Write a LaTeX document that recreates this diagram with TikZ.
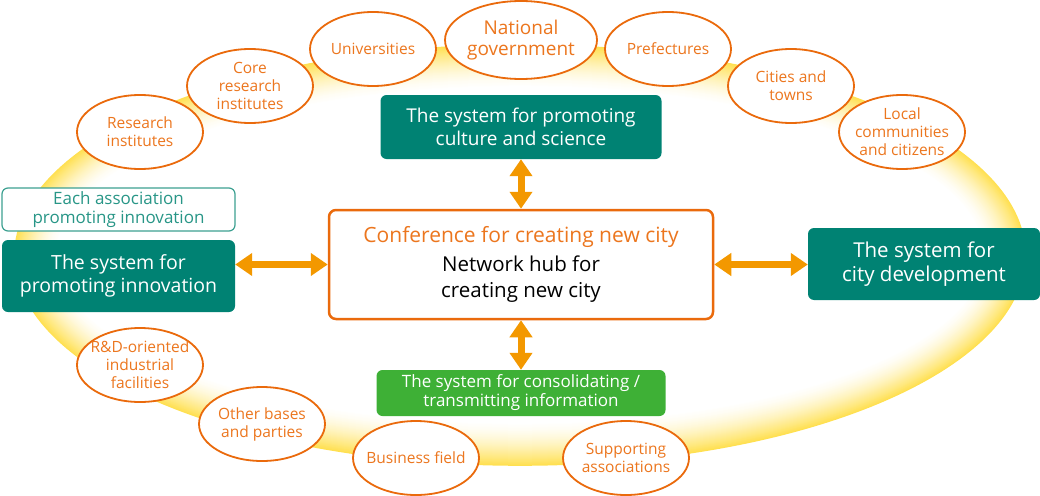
\documentclass[tikz,border=0pt]{standalone}
\usepackage{fontspec}
\setmainfont{Open Sans}
\usetikzlibrary{arrows.meta,shapes.geometric}
\definecolor{systeal}{RGB}{0,130,115}
\definecolor{sysgreen}{RGB}{62,176,54}
\definecolor{edgeorange}{RGB}{234,106,12}
\definecolor{textorange}{RGB}{236,118,30}
\definecolor{arroworange}{RGB}{243,152,0}
\definecolor{ringyellow}{RGB}{255,224,80}
\definecolor{assocteal}{RGB}{60,160,145}
\definecolor{assoctext}{RGB}{40,150,135}
\tikzset{
  place/.style={ellipse,draw=edgeorange,line width=1.8pt,fill=white,minimum width=126pt,minimum height=74pt,inner sep=-9pt,align=center,text=textorange,font=\fontsize{15.5}{18}\selectfont},
  sysbox/.style={rounded corners=6pt,fill=systeal,text=white,align=center,inner sep=0pt,font=\fontsize{19.5}{23.5}\selectfont},
  link/.style={line width=7pt,draw=arroworange,{Triangle[width=22pt,length=17pt]}-{Triangle[width=22pt,length=17pt]}}
}
\begin{document}
\begin{tikzpicture}[x=1pt,y=-1pt]
\useasboundingbox (0,0) rectangle (1040,495);
\foreach \i in {0,...,44} {\pgfmathtruncatemacro\amt{100*(1-\i/44)^1.6}
  \draw[line width=1.6pt,ringyellow!\amt!white] (520,255) ellipse [x radius=505-\i,y radius=210-\i];}
\node[place] (research) at (140,132) {Research\\institutes};
\node[place] (core) at (250,86) {Core\\research\\institutes};
\node[place] (univ) at (373,49) {Universities};
\node[place,minimum width=152pt,minimum height=78pt,font=\fontsize{19}{21.5}\selectfont] (natgov) at (521,40) {National\\government};
\node[place] (pref) at (668,49) {Prefectures};
\node[place] (cities) at (791,86) {Cities and\\towns};
\node[place] (local) at (902,132) {Local\\communities\\and citizens};
\node[place] (rnd) at (140,365) {R\&D-oriented\\industrial\\facilities};
\node[place] (other) at (262,424) {Other bases\\and parties};
\node[place] (business) at (416,458) {Business field};
\node[place] (support) at (626,458) {Supporting\\associations};
\node[sysbox,minimum width=281pt,minimum height=64pt,font=\fontsize{19}{23.5}\selectfont] (culture) at (521,127) {The system for promoting\\culture and science};
\node[sysbox,minimum width=233pt,minimum height=72pt] (innov) at (118.5,276) {The system for\\promoting innovation};
\node[sysbox,minimum width=232pt,minimum height=72pt,font=\fontsize{20.5}{24}\selectfont] (citydev) at (924,264) {The system for\\city development};
\node[sysbox,fill=sysgreen,minimum width=289pt,minimum height=46pt,font=\fontsize{17}{19}\selectfont] (info) at (521,393) {The system for consolidating /\\transmitting information};
\node[draw=assocteal,line width=1.2pt,fill=white,rounded corners=6pt,text=assoctext,minimum width=233pt,minimum height=43pt,align=center,inner sep=0pt,font=\fontsize{17}{18.5}\selectfont] (assoc) at (118.5,209.5) {Each association\\promoting innovation};
\node[draw=edgeorange,line width=2.5pt,fill=white,rounded corners=7pt,minimum width=384pt,minimum height=109pt,align=center,inner sep=0pt,font=\fontsize{20.5}{26}\selectfont] (hub) at (521,264.5) {\textcolor{textorange}{\fontsize{21}{26}\selectfont Conference for creating new city}\\[3pt]Network hub for\\creating new city};
\draw[link] (hub.north) -- (hub.north |- culture.south);
\draw[link] (hub.south) -- (hub.south |- info.north);
\draw[link] (hub.west) -- (hub.west -| innov.east);
\draw[link] (hub.east) -- (hub.east -| citydev.west);
\end{tikzpicture}
\end{document}
